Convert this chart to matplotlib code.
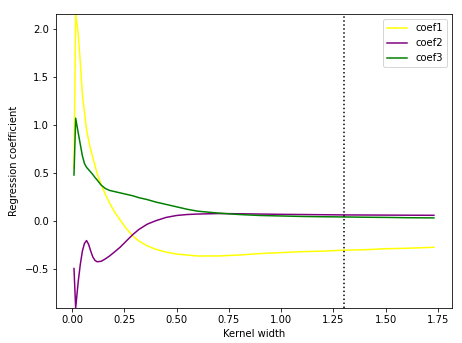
import matplotlib
matplotlib.use("Agg")
import matplotlib.pyplot as plt

kernel_width = [0.01, 0.018, 0.03, 0.04, 0.05, 0.06, 0.07, 0.08, 0.09, 0.10,
                0.11, 0.12, 0.14, 0.16, 0.18, 0.20, 0.23, 0.26, 0.29, 0.32,
                0.36, 0.40, 0.45, 0.50, 0.55, 0.60, 0.70, 0.80, 0.90, 1.00,
                1.10, 1.20, 1.30, 1.40, 1.50, 1.60, 1.73]

coef1 = [0.55, 2.15, 1.95, 1.65, 1.32, 1.13, 0.95, 0.84, 0.74, 0.66,
         0.58, 0.50, 0.38, 0.28, 0.19, 0.11, 0.015, -0.075, -0.15, -0.205,
         -0.255, -0.29, -0.32, -0.34, -0.35, -0.36, -0.36, -0.35, -0.335, -0.325,
         -0.315, -0.31, -0.30, -0.295, -0.285, -0.28, -0.27]

coef2 = [-0.49, -0.90, -0.63, -0.45, -0.31, -0.23, -0.20, -0.24, -0.31, -0.37,
         -0.405, -0.42, -0.415, -0.39, -0.36, -0.325, -0.27, -0.205, -0.14, -0.085,
         -0.03, 0.005, 0.04, 0.06, 0.07, 0.075, 0.08, 0.078, 0.075, 0.072,
         0.07, 0.068, 0.066, 0.065, 0.064, 0.063, 0.062]

coef3 = [0.48, 1.07, 0.92, 0.80, 0.68, 0.60, 0.56, 0.535, 0.51, 0.485,
         0.455, 0.43, 0.375, 0.34, 0.32, 0.31, 0.295, 0.28, 0.265, 0.245,
         0.225, 0.20, 0.175, 0.15, 0.125, 0.105, 0.085, 0.07, 0.06, 0.055,
         0.05, 0.047, 0.045, 0.042, 0.04, 0.037, 0.035]

default_width = 1.3

fig = plt.figure(figsize=(462 / 72, 343 / 72), dpi=72)
ax = fig.add_axes([0.1212, 0.102, 0.857, 0.857])

ax.plot(kernel_width, coef1, color="yellow", label="coef1")
ax.plot(kernel_width, coef2, color="purple", label="coef2")
ax.plot(kernel_width, coef3, color="green", label="coef3")
ax.axvline(default_width, color="black", linestyle=":")

all_vals = coef1 + coef2 + coef3
ax.set_ylim(min(all_vals), max(all_vals))
ax.set_xlabel("Kernel width")
ax.set_ylabel("Regression coefficient", labelpad=6)
ax.legend(loc="upper right")

fig.savefig("out.png", dpi=72)
